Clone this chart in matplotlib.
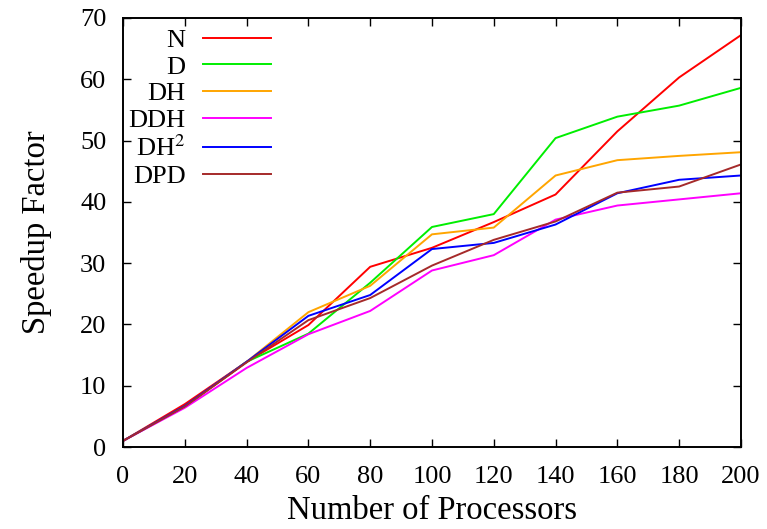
import matplotlib
matplotlib.use('Agg')
import matplotlib.pyplot as plt

# numero di processori
procs = [0, 20, 40, 60, 80, 100, 120, 140, 160, 180, 200]

# speedup
sp_n = [1, 7.0, 13.9, 19.9, 29.4, 32.5, 36.7, 41.2, 51.5, 60.3, 67.2]
sp_d = [1, 6.6, 13.9, 18.5, 26.8, 35.9, 38.0, 50.4, 53.9, 55.7, 58.6]
sp_dh = [1, 6.6, 13.9, 22.0, 26.3, 34.7, 35.8, 44.3, 46.8, 47.5, 48.1]
sp_ddh = [1, 6.4, 12.9, 18.4, 22.2, 28.8, 31.3, 37.1, 39.4, 40.4, 41.4]
sp_dh2 = [1, 6.7, 13.9, 21.4, 24.8, 32.3, 33.3, 36.3, 41.4, 43.6, 44.3]
sp_dpd = [1, 6.6, 13.8, 20.7, 24.3, 29.6, 33.8, 36.8, 41.5, 42.5, 46.1]

serie = [
    ("N", sp_n, "#ff0000"),
    ("D", sp_d, "#00ee00"),
    ("DH", sp_dh, "#ffa500"),
    ("DDH", sp_ddh, "#ff00ff"),
    ("DH$^{2}$", sp_dh2, "#0000ff"),
    ("DPD", sp_dpd, "#a52a2a"),
]

plt.rcParams['font.family'] = ['Liberation Serif', 'DejaVu Serif']
plt.rcParams['mathtext.fontset'] = 'stix'

fig = plt.figure(figsize=(7.67, 5.29), dpi=100)
ax = fig.add_axes([0.1604, 0.155, 0.8056, 0.811])

for nome, valori, colore in serie:
    ax.plot(procs, valori, color=colore, lw=1.4, label=nome)

ax.set_xlim(0, 200)
ax.set_ylim(0, 70)
ax.set_xticks(range(0, 201, 20))
ax.set_yticks(range(0, 71, 10))
ax.tick_params(direction='in', length=5.5, width=1, top=True, right=True,
               labelsize=19)
ax.tick_params(axis='x', pad=14)
ax.tick_params(axis='y', pad=12)
for sp in ax.spines.values():
    sp.set_linewidth(1.4)

ax.set_xlabel("Number of Processors", fontsize=23.5, labelpad=5)
ax.set_ylabel("Speedup Factor", fontsize=23.5, labelpad=20)

ax.legend(loc='upper left', bbox_to_anchor=(0.0, 0.988), frameon=False,
          markerfirst=False, fontsize=19, handlelength=2.6,
          handletextpad=0.65, labelspacing=0.125, borderaxespad=0.0,
          borderpad=0.2)

fig.savefig("out.png", dpi=100)
